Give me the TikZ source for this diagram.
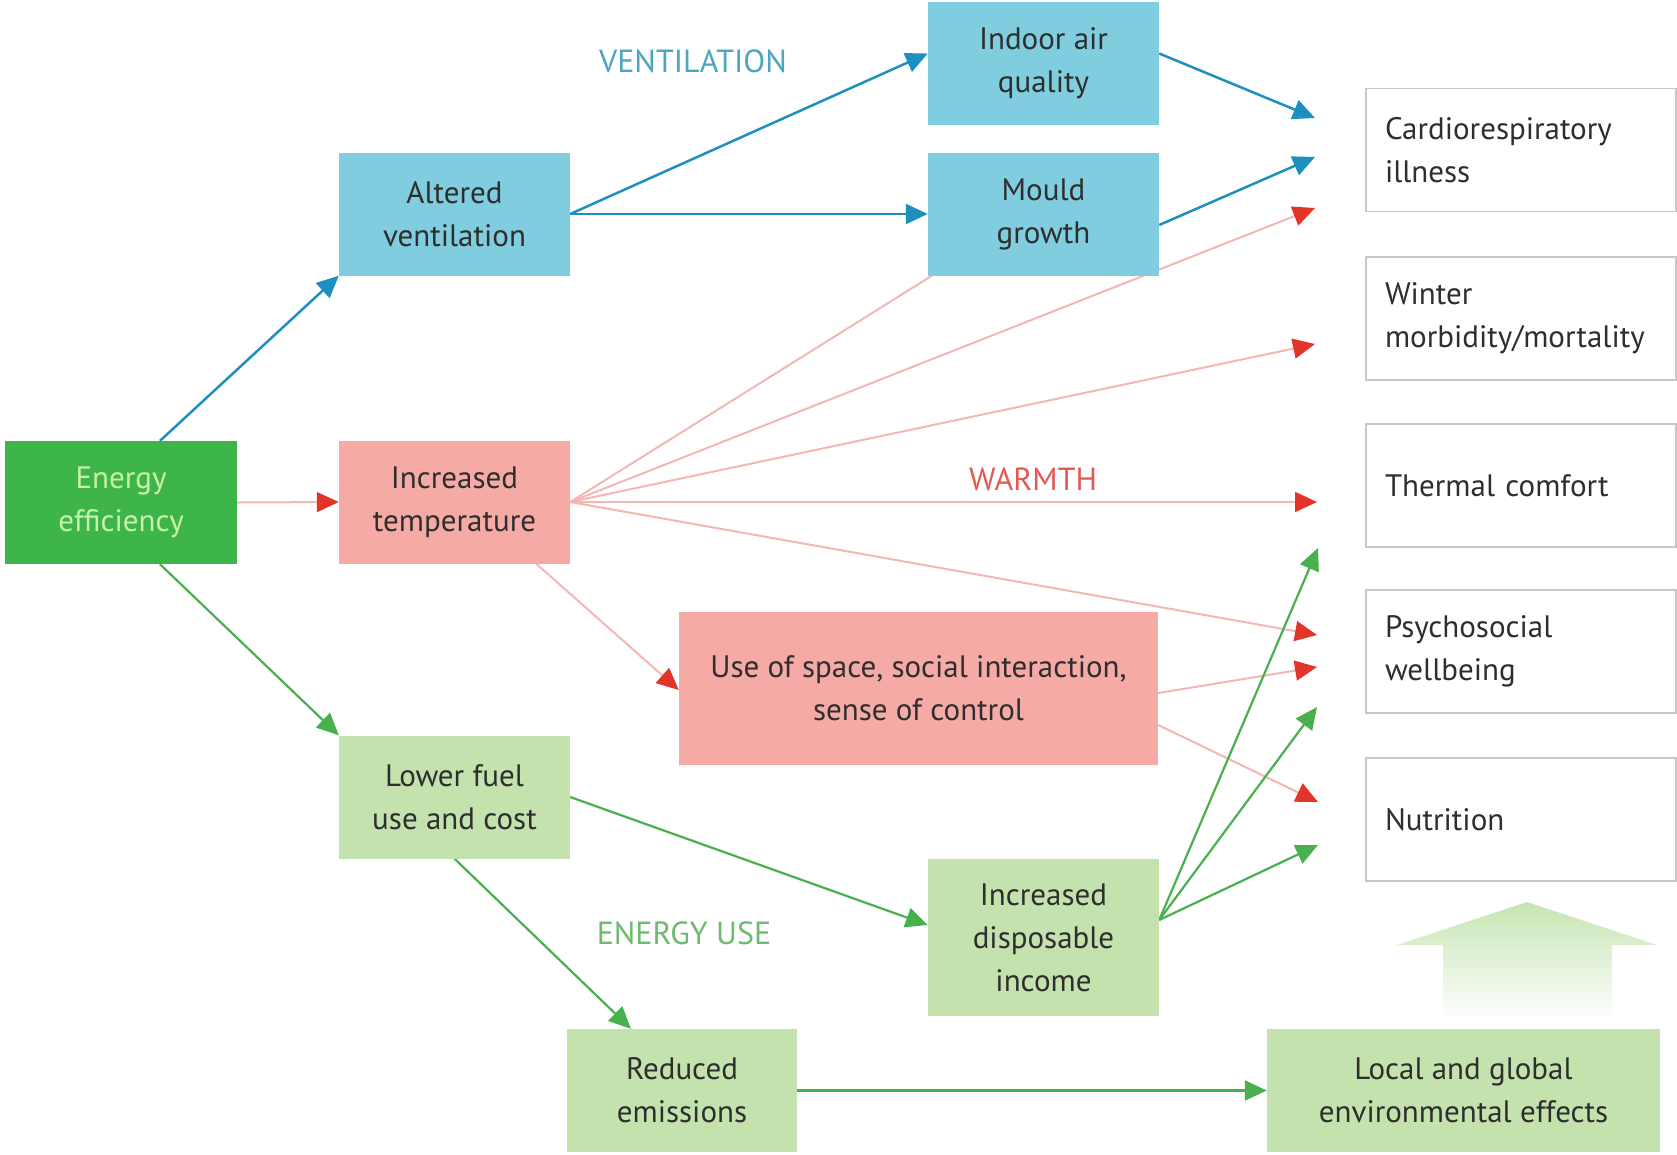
\documentclass[tikz,border=0pt]{standalone}
\usepackage{fontspec}
\setmainfont{PT Sans}
\usetikzlibrary{arrows.meta,calc}
\pgfdeclarelayer{bg}
\pgfsetlayers{bg,main}
\definecolor{eegreen}{HTML}{3DB54A}
\definecolor{eetext}{HTML}{C9F2A7}
\definecolor{bluefill}{HTML}{80CDE0}
\definecolor{pinkfill}{HTML}{F5AAA6}
\definecolor{lgreenfill}{HTML}{C4E2AE}
\definecolor{blueline}{HTML}{1E90C0}
\definecolor{pinkline}{HTML}{F4B8B4}
\definecolor{redhead}{HTML}{E3342A}
\definecolor{greenline}{HTML}{48B04C}
\definecolor{txt}{HTML}{2E2E2E}
\definecolor{ventc}{HTML}{4BA6BE}
\definecolor{warmc}{HTML}{E15A55}
\definecolor{energc}{HTML}{6CBB6E}
\definecolor{outline}{HTML}{C8C8C8}
\definecolor{bigarrow}{HTML}{C6E5B2}
\begin{document}
\begin{tikzpicture}[x=1pt,y=-1pt,
  box/.style={rectangle, inner sep=0pt, align=center, font=\fontsize{31}{43}\selectfont, text=txt},
  eebox/.style={box, fill=eegreen, text=eetext, minimum width=232pt, minimum height=123pt},
  bluebox/.style={box, fill=bluefill, minimum width=231pt, minimum height=123pt},
  pinkbox/.style={box, fill=pinkfill, minimum width=231pt, minimum height=123pt},
  greenbox/.style={box, fill=lgreenfill, minimum width=231pt, minimum height=123pt},
  outbox/.style={box, fill=white, draw=outline, line width=1.5pt, align=left, text width=272pt, inner xsep=19pt, minimum width=310pt, minimum height=123pt},
  lbl/.style={font=\fontsize{32}{38}\selectfont, inner sep=0pt},
  blueArr/.style={draw=blueline, line width=2.5pt, -{Triangle[length=22pt,width=20pt,color=blueline]}},
  redArr/.style={draw=pinkline, line width=2pt, -{Triangle[length=22pt,width=20pt,color=redhead]}},
  greenArr/.style={draw=greenline, line width=2.2pt, -{Triangle[length=22pt,width=20pt,color=greenline]}}
]
\useasboundingbox (0,0) rectangle (1677,1154);
\begin{pgfonlayer}{bg}
\fill[white] (0,0) rectangle (1677,1154);
\end{pgfonlayer}

% nodes
\node[eebox] (ee) at (121,502.5) {Energy\\efficiency};
\node[bluebox] (alt) at (454.5,214) {Altered\\ventilation};
\node[pinkbox] (temp) at (454.5,502) {Increased\\temperature};
\node[bluebox] (iaq) at (1043.5,63.5) {Indoor air\\quality};
\node[bluebox] (mould) at (1043.5,214) {Mould\\growth};
\node[pinkbox, minimum width=479pt, minimum height=153pt] (space) at (918.5,688.5) {Use of space, social interaction,\\sense of control};
\node[greenbox] (fuel) at (454.5,797) {Lower fuel\\use and cost};
\node[greenbox, minimum height=157pt] (income) at (1043.5,937.5) {Increased\\disposable\\income};
\node[greenbox, minimum width=230pt] (emis) at (682,1090.5) {Reduced\\emissions};
\node[greenbox, minimum width=393pt] (env) at (1463.5,1090.5) {Local and global\\environmental effects};

\node[outbox] (cardio) at (1521,150) {Cardiorespiratory\\illness};
\node[outbox] (winter) at (1521,318.5) {Winter\\morbidity/mortality};
\node[outbox] (thermal) at (1521,485.5) {Thermal comfort};
\node[outbox] (psycho) at (1521,651.5) {Psychosocial\\wellbeing};
\node[outbox] (nutri) at (1521,819.5) {Nutrition};

\node[lbl, text=ventc] (lvent) at (693,61) {VENTILATION};
\node[lbl, text=warmc] (lwarm) at (1033,479) {WARMTH};
\node[lbl, text=energc] (lenergy) at (684,933) {ENERGY USE};

% big gradient arrow
\shade[top color=bigarrow, middle color=bigarrow!75!white, bottom color=white]
  (1527,902) -- (1657,945) -- (1612,945) -- (1612,1020) -- (1443,1020) -- (1443,945) -- (1397,945) -- cycle;

% arrow tip coordinates
\coordinate (tCa) at (1315,118);
\coordinate (tCb) at (1315,157);
\coordinate (tCc) at (1315,208);
\coordinate (tW) at (1315,344);
\coordinate (tTr) at (1317,502);
\coordinate (tTg) at (1318,548);
\coordinate (tPa) at (1317,635);
\coordinate (tPb) at (1317,667);
\coordinate (tPg) at (1317,707);
\coordinate (tNr) at (1318,802);
\coordinate (tNg) at (1318,845);

\begin{pgfonlayer}{bg}
% blue
\draw[blueArr] ($(ee.north)+(39,0)$) -- (alt.south west);
\draw[blueArr] (alt.east) -- ($(iaq.west)+(0,-10)$);
\draw[blueArr] (alt.east) -- (mould.west);
\draw[blueArr] ($(iaq.east)+(0,-10)$) -- (tCa);
\draw[blueArr] ($(mould.east)+(0,11)$) -- (tCb);
% red
\draw[redArr] (ee.east) -- (temp.west);
\draw[draw=pinkline, line width=2pt] (temp.east) -- ($(mould.south west)+(4,0)$);
\draw[redArr] (temp.east) -- (tCc);
\draw[redArr] (temp.east) -- (tW);
\draw[redArr] (temp.east) -- (tTr);
\draw[redArr] (temp.east) -- (tPa);
\draw[redArr] ($(temp.south east)+(-34,0)$) -- ($(space.west)+(0,1.5)$);
\draw[redArr] ($(space.east)+(0,4.5)$) -- (tPb);
\draw[redArr] ($(space.east)+(0,36.5)$) -- (tNr);
% green
\draw[greenArr] ($(ee.south)+(39,0)$) -- (fuel.north west);
\draw[greenArr] (fuel.east) -- ($(income.west)+(0,-12.5)$);
\draw[greenArr] (fuel.south) -- ($(emis.north)+(-51,0)$);
\draw[greenArr] (emis.east) -- (env.west);
\draw[greenArr] ($(income.east)+(0,-17.5)$) -- (tTg);
\draw[greenArr] ($(income.east)+(0,-17.5)$) -- (tPg);
\draw[greenArr] ($(income.east)+(0,-17.5)$) -- (tNg);
\end{pgfonlayer}
\end{tikzpicture}
\end{document}
